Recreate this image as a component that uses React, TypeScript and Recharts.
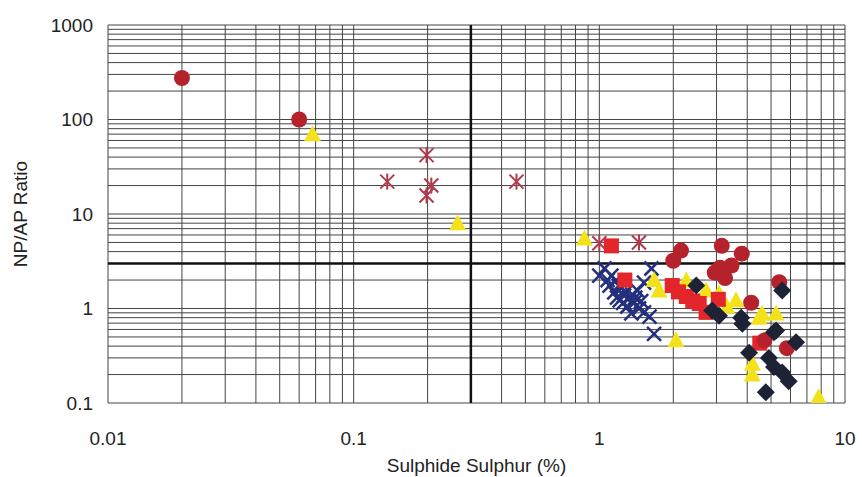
import {
  CartesianGrid,
  ReferenceLine,
  Scatter,
  ScatterChart,
  XAxis,
  YAxis,
} from "recharts";

// x = sulphide sulphur (%), y = NP/AP ratio
const circlePoints: [number, number][] = [
  [0.02, 275], [0.06, 100], [2.15, 4.1], [2.0, 3.2], [3.15, 4.6], [3.8, 3.8],
  [3.1, 2.7], [3.25, 2.1], [3.45, 2.85], [5.4, 1.9], [4.15, 1.15], [4.7, 0.46],
  [5.8, 0.38], [2.95, 2.4],
];
const squarePoints: [number, number][] = [
  [1.12, 4.6], [1.27, 2.0], [1.98, 1.75], [2.26, 1.34], [2.4, 1.2], [2.55, 1.13],
  [2.72, 0.91], [3.05, 1.25], [4.5, 0.43], [2.1, 1.5],
];
const trianglePoints: [number, number][] = [
  [0.068, 70], [0.265, 8], [0.87, 5.5], [1.67, 2.0], [2.26, 1.98], [1.75, 1.55],
  [2.72, 1.55], [3.07, 1.44], [3.6, 1.22], [4.47, 0.8], [5.24, 0.885], [4.6, 0.88],
  [2.05, 0.46], [4.2, 0.26], [4.19, 0.2], [7.8, 0.115], [3.3, 1.05],
];
const diamondPoints: [number, number][] = [
  [2.48, 1.75], [2.88, 0.95], [3.07, 0.84], [3.78, 0.8], [3.82, 0.69], [5.24, 0.585],
  [5.55, 1.55], [5.14, 0.56], [6.32, 0.44], [4.07, 0.34], [4.9, 0.3], [5.14, 0.24],
  [5.55, 0.21], [5.9, 0.17], [4.76, 0.13],
];
const crossPoints: [number, number][] = [
  [1.05, 2.65], [1.12, 2.23], [1.17, 1.98], [1.1, 1.75], [1.23, 1.63], [1.15, 1.48],
  [1.26, 1.37], [1.32, 1.28], [1.21, 1.22], [1.39, 1.16], [1.3, 1.05], [1.45, 1.0],
  [1.52, 0.91], [1.35, 0.89], [1.6, 0.82], [1.43, 1.55], [1.52, 1.88], [1.63, 2.65],
  [1.67, 0.54], [1.18, 1.3], [1.0, 2.23], [1.08, 2.0], [1.2, 1.75], [1.28, 1.5],
  [1.36, 1.4], [1.25, 1.15], [1.4, 1.3], [1.48, 1.2],
];
const asteriskPoints: [number, number][] = [
  [0.137, 22], [0.198, 42], [0.207, 20], [0.198, 15.7], [0.46, 22], [1.45, 5.0],
  [1.0, 4.9],
];

const xTicks = [
  0.01, 0.02, 0.03, 0.04, 0.05, 0.06, 0.07, 0.08, 0.09,
  0.1, 0.2, 0.3, 0.4, 0.5, 0.6, 0.7, 0.8, 0.9,
  1, 2, 3, 4, 5, 6, 7, 8, 9, 10,
];
const yTicks = [
  0.1, 0.2, 0.3, 0.4, 0.5, 0.6, 0.7, 0.8, 0.9,
  1, 2, 3, 4, 5, 6, 7, 8, 9,
  10, 20, 30, 40, 50, 60, 70, 80, 90,
  100, 200, 300, 400, 500, 600, 700, 800, 900, 1000,
];
const xLabels = ["0.01", "0.1", "1", "10"];
const yLabels = ["0.1", "1", "10", "100", "1000"];

const toData = (pts: [number, number][]) => pts.map(([x, y]) => ({ x, y }));

const fmt = (labels: string[]) => (v: number) =>
  labels.includes(String(v)) ? String(v) : "";

const CircleMark = (p: any) => <circle cx={p.cx} cy={p.cy} r={8} fill="#b5222b" />;
const SquareMark = (p: any) => (
  <rect x={p.cx - 7.5} y={p.cy - 7.5} width={15} height={15} fill="#e3262b" />
);
const TriangleMark = (p: any) => (
  <polygon
    points={`${p.cx},${p.cy - 9} ${p.cx + 8.5},${p.cy + 7} ${p.cx - 8.5},${p.cy + 7}`}
    fill="#f3e21a"
  />
);
const DiamondMark = (p: any) => (
  <polygon
    points={`${p.cx},${p.cy - 9} ${p.cx + 9},${p.cy} ${p.cx},${p.cy + 9} ${p.cx - 9},${p.cy}`}
    fill="#1e2235"
  />
);
const CrossMark = (p: any) => (
  <g stroke="#24307e" strokeWidth={2.5}>
    <line x1={p.cx - 7} y1={p.cy - 7} x2={p.cx + 7} y2={p.cy + 7} />
    <line x1={p.cx - 7} y1={p.cy + 7} x2={p.cx + 7} y2={p.cy - 7} />
  </g>
);
const AsteriskMark = (p: any) => (
  <g stroke="#b03a4c" strokeWidth={2}>
    <line x1={p.cx - 7} y1={p.cy - 7} x2={p.cx + 7} y2={p.cy + 7} />
    <line x1={p.cx - 7} y1={p.cy + 7} x2={p.cx + 7} y2={p.cy - 7} />
    <line x1={p.cx} y1={p.cy - 8} x2={p.cx} y2={p.cy + 8} />
  </g>
);

const tickStyle = { fill: "#222", fontSize: 19, fontFamily: "Liberation Sans, Arial, sans-serif" };

export default function App() {
  return (
    <div style={{ position: "absolute", left: 0, top: 0, background: "#fff" }}>
      <ScatterChart
        width={862}
        height={477}
        margin={{ top: 25, right: 17, bottom: 0, left: 0 }}
      >
        <CartesianGrid stroke="#444" strokeWidth={1} />
        <XAxis
          type="number"
          dataKey="x"
          scale="log"
          domain={[0.01, 10]}
          ticks={xTicks}
          interval={0}
          tickFormatter={fmt(xLabels)}
          tick={tickStyle}
          tickLine={false}
          axisLine={false}
          tickSize={0}
          tickMargin={29}
          height={74}
          allowDataOverflow
          label={{
            value: "Sulphide Sulphur (%)",
            position: "insideBottom",
            offset: 5,
            style: tickStyle,
          }}
        />
        <YAxis
          type="number"
          dataKey="y"
          scale="log"
          domain={[0.1, 1000]}
          ticks={yTicks}
          interval={0}
          tickFormatter={fmt(yLabels)}
          tick={tickStyle}
          tickLine={false}
          axisLine={false}
          tickSize={0}
          tickMargin={15}
          width={108}
          allowDataOverflow
          label={{
            value: "NP/AP Ratio",
            angle: -90,
            position: "insideLeft",
            offset: 20,
            style: { ...tickStyle, textAnchor: "middle" },
          }}
        />
        <ReferenceLine x={0.3} stroke="#111" strokeWidth={2.5} />
        <ReferenceLine y={3} stroke="#111" strokeWidth={2.5} />
        <Scatter data={toData(crossPoints)} shape={CrossMark} isAnimationActive={false} />
        <Scatter data={toData(asteriskPoints)} shape={AsteriskMark} isAnimationActive={false} />
        <Scatter data={toData(trianglePoints)} shape={TriangleMark} isAnimationActive={false} />
        <Scatter data={toData(squarePoints)} shape={SquareMark} isAnimationActive={false} />
        <Scatter data={toData(circlePoints)} shape={CircleMark} isAnimationActive={false} />
        <Scatter data={toData(diamondPoints)} shape={DiamondMark} isAnimationActive={false} />
      </ScatterChart>
    </div>
  );
}
